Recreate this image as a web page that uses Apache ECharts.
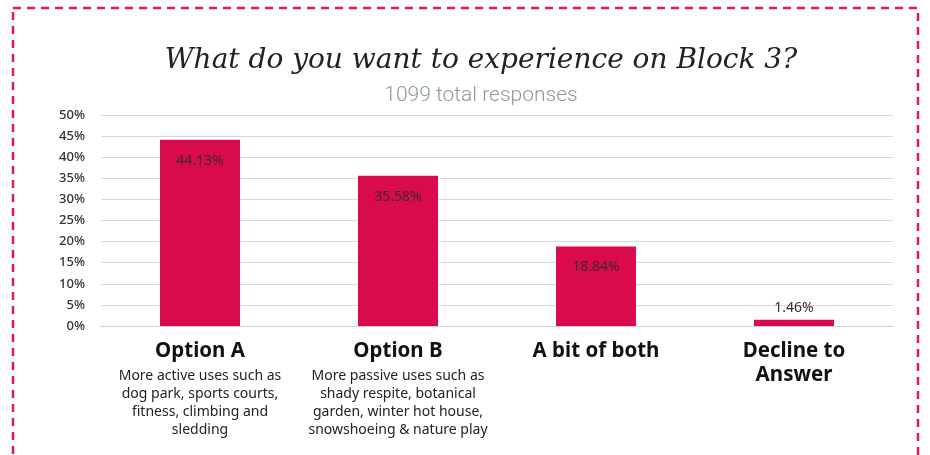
<!DOCTYPE html>
<html><head><meta charset="utf-8">
<script src="https://cdn.jsdelivr.net/npm/echarts@6/dist/echarts.min.js"></script>
<style>html,body{margin:0;padding:0;background:#fff;}#c{width:930px;height:455px;}</style>
</head><body><div id="c"></div>
<script>
const categories = ['Option A', 'Option B', 'A bit of both', 'Decline to\nAnswer'];
const descriptions = [
  'More active uses such as\ndog park, sports courts,\nfitness, climbing and\nsledding',
  'More passive uses such as\nshady respite, botanical\ngarden, winter hot house,\nsnowshoeing & nature play',
  '',
  ''
];
const values = [44.13, 35.58, 18.84, 1.46];
const yTicks = [0, 5, 10, 15, 20, 25, 30, 35, 40, 45, 50];

const chart = echarts.init(document.getElementById('c'));
const labelsRich = categories.map((c, i) => {
  const head = c.split('\n').map(s => '{h|' + s + '}').join('\n');
  const desc = descriptions[i] ? '\n{sp| }\n' + descriptions[i].split('\n').map(s => '{d|' + s + '}').join('\n') : '';
  return head + desc;
});
chart.setOption({
  animation: false,
  title: {
    text: 'What do you want to experience on Block 3?',
    subtext: '1099 total responses',
    left: 476, textAlign: 'center', top: 42, itemGap: 10,
    textStyle: {fontFamily: 'DejaVu Serif', fontStyle: 'italic', fontWeight: 'normal', fontSize: 28, color: '#222'},
    subtextStyle: {fontFamily: 'Roboto', fontWeight: 300, fontSize: 21, color: '#8c9999'}
  },
  graphic: [{
    type: 'rect', shape: {x: 13, y: 8, width: 905, height: 480},
    style: {fill: 'none', stroke: '#e0185a', lineWidth: 2.5, lineDash: [8, 6]}, silent: true
  }],
  grid: {left: 101, right: 37, top: 115, bottom: 129, containLabel: false},
  xAxis: {
    type: 'category', data: labelsRich,
    axisLine: {lineStyle: {color: '#d0d0d0'}}, axisTick: {show: false},
    axisLabel: {
      interval: 0, margin: 13, align: 'center',
      formatter: v => v,
      rich: {
        h: {fontFamily: 'Noto Sans', fontWeight: 'bold', fontSize: 20.5, color: '#111', lineHeight: 24},
        sp: {fontSize: 2, lineHeight: 4},
        d: {fontFamily: 'Noto Sans', fontSize: 14, color: '#222', lineHeight: 18}
      }
    }
  },
  yAxis: {
    type: 'value', min: 0, max: 50, interval: 5,
    axisLabel: {formatter: v => yTicks.includes(v) ? v + '%' : '', fontFamily: 'Noto Sans', fontWeight: 500, fontSize: 13, color: '#333', margin: 16},
    splitLine: {lineStyle: {color: '#d9d9d9'}},
    axisLine: {show: false}, axisTick: {show: false}
  },
  series: [{
    type: 'bar', barWidth: 80,
    data: values.map((v, i) => ({
      value: v,
      label: i < 3 ? {position: 'insideTop', distance: 14} : {position: 'top', distance: 5}
    })),
    itemStyle: {color: '#d90b4c'},
    label: {show: true, formatter: p => p.value.toFixed(2) + '%', fontFamily: 'Noto Sans', fontSize: 14, color: '#3a2a30'}
  }]
});
</script></body></html>
